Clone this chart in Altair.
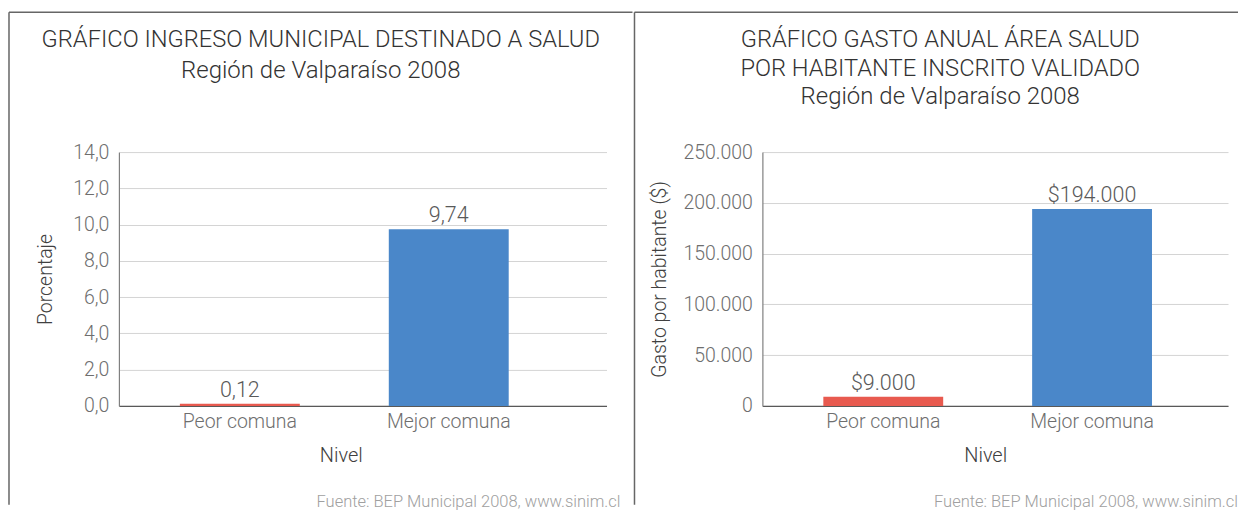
import altair as alt
import pandas as pd

# ---- data ----
categories = ["Peor comuna", "Mejor comuna"]
ingreso = [0.12, 9.74]
gasto = [9000, 194000]
ingreso_labels = ["0,12", "9,74"]
gasto_labels = ["$9.000", "$194.000"]
ingreso_ticks = [0, 2, 4, 6, 8, 10, 12, 14]
gasto_ticks = [0, 50000, 100000, 150000, 200000, 250000]
bar_colors = ["#E85A4F", "#4A87C9"]

left_title = ["GRÁFICO INGRESO MUNICIPAL DESTINADO A SALUD", "Región de Valparaíso 2008"]
right_title = ["GRÁFICO GASTO ANUAL ÁREA SALUD", "POR HABITANTE INSCRITO VALIDADO", "Región de Valparaíso 2008"]
source = "Fuente: BEP Municipal 2008, www.sinim.cl"

FONT = "Roboto"
H = 254
BORDER = "#666666"
TEXT_DARK = "#333333"
TEXT_GRAY = "#6e6e6e"


def text_mark(txt, x, y, size, color, align="center"):
    return alt.Chart(pd.DataFrame({"t": [txt]})).mark_text(
        font=FONT, fontSize=size, fontWeight=300, color=color, align=align, baseline="middle"
    ).encode(text="t:N", x=alt.value(x), y=alt.value(y))


def rule_mark(x, x2, y, y2):
    return alt.Chart(pd.DataFrame({"a": [0]})).mark_rule(color=BORDER, strokeWidth=1.5).encode(
        x=alt.value(x), x2=alt.value(x2), y=alt.value(y), y2=alt.value(y2)
    )


def panel(values, labels, ticks, ymax, label_expr, ytitle, width, p_outer, align,
          titles, title_x, title_ys, left_border, right_end, source_x, title_pad, xtitle_x):
    df = pd.DataFrame({"Nivel": categories, "v": values, "label": labels})
    base = alt.Chart(df)
    x = alt.X(
        "Nivel:N", sort=categories,
        scale=alt.Scale(paddingInner=0.426, paddingOuter=p_outer, align=align),
        axis=alt.Axis(title="Nivel", labelAngle=0, ticks=False, labelPadding=7,
                      titlePadding=14, titleX=xtitle_x, titleFontSize=20,
                      domainColor="#595959", domainWidth=1.2),
    )
    y = alt.Y(
        "v:Q", scale=alt.Scale(domain=[0, ymax], nice=False),
        axis=alt.Axis(title=ytitle, values=ticks, labelExpr=label_expr, ticks=False,
                      labelOverlap=False, labelPadding=10, titlePadding=title_pad, grid=True,
                      gridColor="#d4d4d4", domainColor="#808080", domainWidth=1.2),
    )
    bars = base.mark_bar().encode(
        x=x, y=y,
        color=alt.Color("Nivel:N", scale=alt.Scale(domain=categories, range=bar_colors), legend=None),
    )
    vals = base.mark_text(font=FONT, fontSize=21.5, fontWeight=300, color="#595959", dy=-13).encode(
        x=x, y=y, text="label:N"
    )
    layers = [bars, vals]
    for i, t in enumerate(titles):
        size = 23.7 if i < len(titles) - 1 else 24
        layers.append(text_mark(t, title_x, title_ys[i], size, TEXT_DARK))
    layers.append(text_mark(source, source_x, H + 96, 16.5, "#a0a0a0", align="right"))
    layers.append(rule_mark(left_border, right_end, -140, -140))
    layers.append(rule_mark(left_border, left_border, -140, H + 99))
    return alt.layer(*layers).properties(width=width, height=H)


left = panel(
    ingreso, ingreso_labels, ingreso_ticks, 14,
    "replace(format(datum.value, '.1f'), '.', ',')", "Porcentaje",
    488, 0.38, 0.384, left_title, 202, [-112, -81], -110, 514, 502, 17, 222,
)
right = panel(
    gasto, gasto_labels, gasto_ticks, 250000,
    "replace(format(datum.value, ','), ',', '.')", "Gasto por habitante ($)",
    466, 0.328, 0.445, right_title, 178, [-112, -83, -55], -128, 476, 476, 13, 223,
)

chart = alt.hconcat(left, right, spacing=0).properties(
    padding={"left": 0, "top": 3, "right": 0, "bottom": 0}
).configure_view(stroke=None).configure_axis(
    labelFont=FONT, labelFontSize=19.5, labelFontWeight=300, labelColor=TEXT_GRAY,
    titleFont=FONT, titleFontSize=19.5, titleFontWeight=300, titleColor="#404040",
)

chart.save("out.html", embed_options={"renderer": "svg", "actions": False})
